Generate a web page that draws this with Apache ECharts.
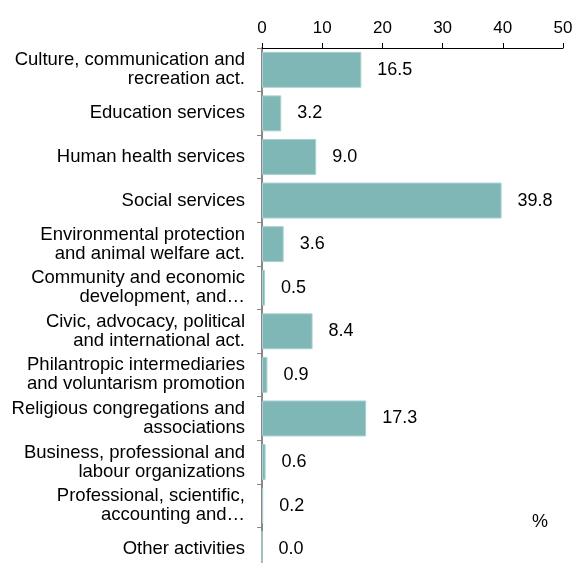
<!DOCTYPE html>
<html><head><meta charset="utf-8">
<script src="https://cdn.jsdelivr.net/npm/echarts@6/dist/echarts.min.js"></script>
<style>html,body{margin:0;padding:0;background:#fff}#c{width:576px;height:563px}</style>
</head><body><div id="c"></div>
<script>
const categories = [
  "Culture, communication and\nrecreation act.",
  "Education services",
  "Human health services",
  "Social services",
  "Environmental protection\nand animal welfare act.",
  "Community and economic\ndevelopment, and…",
  "Civic, advocacy, political\nand international act.",
  "Philantropic intermediaries\nand voluntarism promotion",
  "Religious congregations and\nassociations",
  "Business, professional and\nlabour organizations",
  "Professional, scientific,\naccounting and…",
  "Other activities"
];
const values = [16.5, 3.2, 9.0, 39.8, 3.6, 0.5, 8.4, 0.9, 17.3, 0.6, 0.2, 0.0];
const xTicks = [0, 10, 20, 30, 40, 50];
const unitLabel = "%";

const font = "Liberation Sans, Arial, sans-serif";
const chart = echarts.init(document.getElementById('c'), null, {renderer: 'canvas'});
chart.setOption({
  animation: false,
  grid: {left: 262, right: 13, top: 48, height: 523, containLabel: false, outerBoundsMode: 'none'},
  xAxis: {
    type: 'value', position: 'top', min: xTicks[0], max: xTicks[xTicks.length - 1], interval: 10,
    axisLine: {show: true, lineStyle: {color: '#000', width: 1}},
    axisTick: {show: true, length: 5, lineStyle: {color: '#000'}},
    axisLabel: {fontFamily: font, fontSize: 17, color: '#000', margin: 11},
    splitLine: {show: false}
  },
  yAxis: {
    type: 'category', inverse: true, data: categories,
    axisLine: {show: true, lineStyle: {color: '#888', width: 2}},
    axisTick: {show: true, length: 5, lineStyle: {color: '#888', width: 1}},
    axisLabel: {fontFamily: font, fontSize: 18.5, color: '#000', margin: 17, lineHeight: 19, align: 'right'}
  },
  series: [{
    type: 'bar', data: values, barCategoryGap: '17.5%',
    itemStyle: {color: '#7FB7B7', borderColor: '#A9D0D0', borderWidth: 1},
    label: {show: true, position: 'right', distance: 16, fontFamily: font, fontSize: 18, color: '#000',
      formatter: p => p.value.toFixed(1)}
  }],
  graphic: [{
    type: 'text', left: 532, top: 513,
    style: {text: unitLabel, font: '18px ' + font, fill: '#000'}
  }]
});
</script></body></html>
